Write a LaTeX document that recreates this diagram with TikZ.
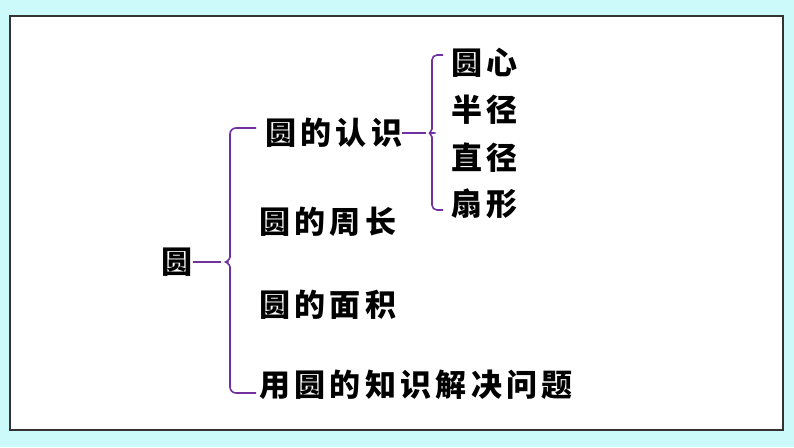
\documentclass[tikz,border=0pt]{standalone}
\usepackage{fontspec}
\newfontfamily\cjk[LetterSpace=14]{Noto Sans CJK SC}
\usetikzlibrary{positioning}
\definecolor{framebg}{RGB}{204,249,249}
\definecolor{braceviolet}{RGB}{112,48,160}
\tikzset{
  item/.style={inner sep=0pt, anchor=west, font=\cjk\bfseries\fontsize{31}{31}\selectfont},
  brace/.style={draw=braceviolet, line width=1.6pt}
}

\begin{document}
\begin{tikzpicture}[x=1pt,y=-1pt]
  \fill[framebg] (0,0) rectangle (794,447);
  \draw[fill=white, draw=black!80, line width=1.3pt] (10,16) rectangle (783,430);

  \node[item, anchor=center] (Circle) at (177,262) {圆};
  \node[item] (Know) at (265,133) {圆的认识};
  \node[item] (Perim) at (259,222) {圆的周长};
  \node[item] (Area) at (259,305) {圆的面积};
  \node[item] (Use) at (259,385) {用圆的知识解决问题};

  \node[item] (Center) at (451,63) {圆心};
  \node[item] (Radius) at (451,110) {半径};
  \node[item] (Diam) at (451,158) {直径};
  \node[item] (Sector) at (451,204) {扇形};

  % big brace
  \coordinate (BigTip) at (221,262);
  \draw[brace, rounded corners=6pt] (256,128) -- (230,128) -- (230,251)
    .. controls (230,260) and (225,262) .. (BigTip)
    .. controls (225,262) and (230,264) .. (230,273) -- (230,393) -- (256,393);
  \draw[brace] (Circle.east) -- (BigTip);

  % small brace
  \coordinate (SmallTip) at (426,133);
  \draw[brace, rounded corners=5pt] (443,55) -- (432,55) -- (432,124)
    .. controls (432,131) and (428,133) .. (SmallTip)
    .. controls (428,133) and (432,135) .. (432,142) -- (432,210) -- (443,210);
  \draw[brace] (Know.east) -- (SmallTip);
\end{tikzpicture}
\end{document}
